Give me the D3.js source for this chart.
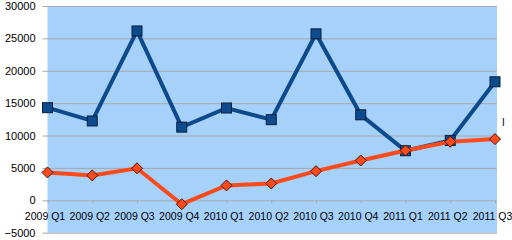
<!DOCTYPE html>
<html>
<head>
<meta charset="utf-8">
<script src="https://cdn.jsdelivr.net/npm/d3@7"></script>
<style>
  body { margin: 0; background: #fff; }
  svg { display: block; font-family: "Liberation Sans", Arial, sans-serif; }
</style>
</head>
<body>
<div id="chart"></div>
<script>
// data
const quarters = ["2009 Q1", "2009 Q2", "2009 Q3", "2009 Q4", "2010 Q1", "2010 Q2",
                  "2010 Q3", "2010 Q4", "2011 Q1", "2011 Q2", "2011 Q3"];
const blueValues = [14300, 12250, 26150, 11300, 14250, 12450, 25700, 13200, 7650, 9250, 18300];
const orangeValues = [4300, 3850, 4950, -600, 2300, 2600, 4500, 6150, 7700, 9050, 9450];
const yTicks = [-5000, 0, 5000, 10000, 15000, 20000, 25000, 30000];

const width = 512, height = 240;
const plotLeft = 47.5, plotRight = 495, plotTop = 6, plotBottom = 232.7;

const svg = d3.select("#chart").append("svg")
    .attr("width", width)
    .attr("height", height);

const x = d3.scalePoint().domain(quarters).range([plotLeft, plotRight]);
const y = d3.scaleLinear().domain([-5000, 30000]).range([plotBottom, plotTop]);

// plot background
svg.append("rect")
    .attr("x", plotLeft).attr("y", plotTop)
    .attr("width", plotRight - plotLeft + 2).attr("height", plotBottom - plotTop)
    .attr("fill", "#a6d1fb");

// y axis with gridlines
const yAxis = svg.append("g")
    .attr("transform", `translate(${plotLeft - 5},0)`)
    .call(d3.axisLeft(y).tickValues(yTicks).tickFormat(d3.format("d"))
        .tickSizeInner(-(plotRight - plotLeft + 7)).tickSizeOuter(0).tickPadding(7));
yAxis.select(".domain").remove();
yAxis.selectAll(".tick line").attr("stroke", "#a9a9a9");
yAxis.selectAll("text").attr("font-size", 11).attr("fill", "#000");

// x axis on the zero line
const xAxis = svg.append("g")
    .attr("transform", `translate(0,${y(0)})`)
    .call(d3.axisBottom(x).tickSizeInner(3).tickSizeOuter(0).tickPadding(9));
xAxis.select(".domain").remove();
xAxis.selectAll(".tick line").attr("stroke", "#a9a9a9");
xAxis.selectAll("text").attr("font-size", 10.5).attr("fill", "#000").attr("x", -3);

const line = d3.line().x((d, i) => x(quarters[i])).y(d => y(d));

// blue series
svg.append("path")
    .datum(blueValues)
    .attr("d", line)
    .attr("fill", "none")
    .attr("stroke", "#0c4a8c")
    .attr("stroke-width", 4);

svg.selectAll(".sq")
    .data(blueValues)
    .enter().append("rect")
    .attr("class", "sq")
    .attr("x", (d, i) => x(quarters[i]) - 5)
    .attr("y", d => y(d) - 5)
    .attr("width", 10).attr("height", 10)
    .attr("fill", "#0d4a8e")
    .attr("stroke", "#06203c")
    .attr("stroke-width", 1);

// orange series
svg.append("path")
    .datum(orangeValues)
    .attr("d", line)
    .attr("fill", "none")
    .attr("stroke", "#fb4a1c")
    .attr("stroke-width", 4);

svg.selectAll(".dia")
    .data(orangeValues)
    .enter().append("path")
    .attr("class", "dia")
    .attr("transform", (d, i) => `translate(${x(quarters[i])},${y(d)})`)
    .attr("d", "M0,-5.5L5.5,0L0,5.5L-5.5,0Z")
    .attr("fill", "#fb4a1c")
    .attr("stroke", "#4a1400")
    .attr("stroke-width", 1);

// clipped legend remnant at the right edge
svg.append("text")
    .attr("x", 502).attr("y", 126)
    .attr("font-size", 10)
    .text("I");
</script>
</body>
</html>
